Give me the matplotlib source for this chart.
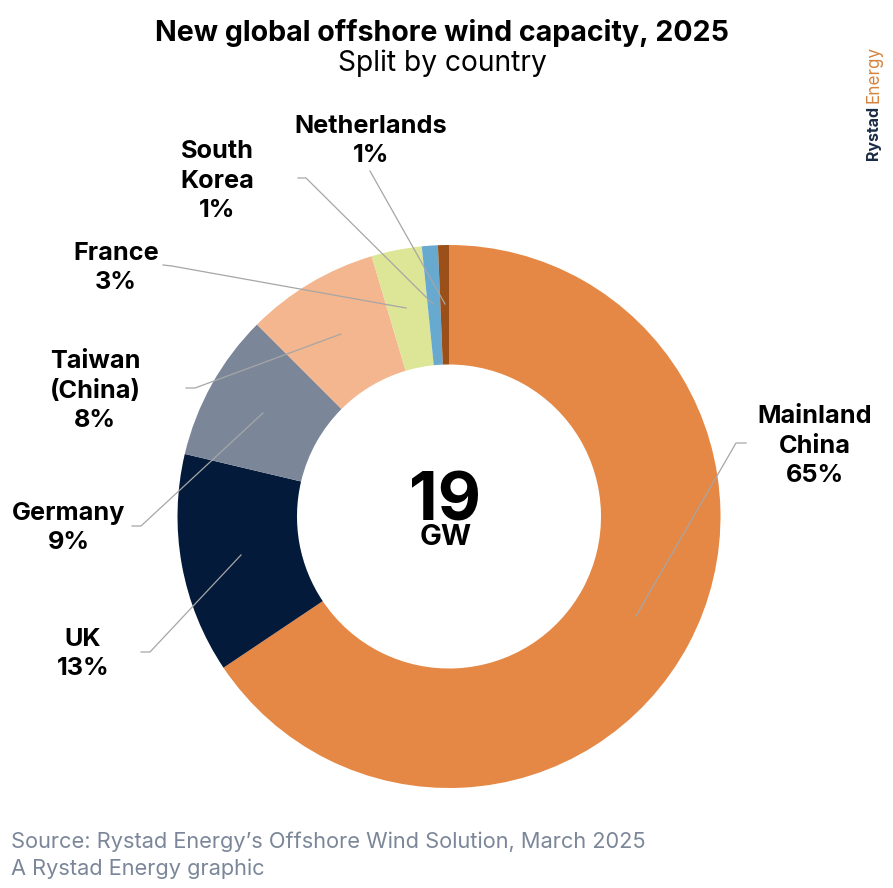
import matplotlib
matplotlib.use("Agg")
import matplotlib.pyplot as plt

plt.rcParams['font.family'] = ['Inter', 'DejaVu Sans']

W, H = 893, 888
countries = ['Mainland\nChina', 'UK', 'Germany', 'Taiwan\n(China)', 'France', 'South\nKorea', 'Netherlands']
shares = [65.6, 13.1, 8.8, 7.9, 3.0, 0.95, 0.65]
pct_labels = ['65%', '13%', '9%', '8%', '3%', '1%', '1%']
colors = ['#E58845', '#041A3A', '#7B8799', '#F4B68E', '#DDE596', '#68A9CF', '#9A5018']

# label centre (px), then leader line: elbow start -> elbow -> end in the slice
label_pos = [(815, 446), (83, 654), (69, 528), (95, 391), (116, 268), (217, 181), (371, 141)]
leaders = [
    [(746, 443), (736, 443), (636, 616)],
    [(141, 652), (150, 652), (241, 555)],
    [(132, 526), (141, 526), (263, 413)],
    [(186, 388), (195, 388), (341, 334)],
    [(163, 265), (172, 266), (406, 308)],
    [(298, 178), (306, 178), (433, 304)],
    [(370, 171), (370, 171), (445, 304)],
]

fig = plt.figure(figsize=(W / 100, H / 100), dpi=100)

cx, cy, r_out, r_in = 449, 516.5, 271.5, 152
ax_pie = fig.add_axes([(cx - r_out) / W, 1 - (cy + r_out) / H, 2 * r_out / W, 2 * r_out / H])
ax_pie.pie(shares, colors=colors, startangle=90, counterclock=False, radius=1,
           wedgeprops=dict(width=1 - r_in / r_out, linewidth=0))
ax_pie.set_xlim(-1, 1); ax_pie.set_ylim(-1, 1)

# overlay in pixel coords for the text and leaders
ax = fig.add_axes([0, 0, 1, 1])
ax.set_xlim(0, W); ax.set_ylim(H, 0); ax.axis('off'); ax.patch.set_alpha(0)

for pts in leaders:
    ax.plot([p[0] for p in pts], [p[1] for p in pts], color='#A6A6A6', lw=0.9)

for name, pct, (x, y) in zip(countries, pct_labels, label_pos):
    ax.text(x, y, f"{name}\n{pct}", ha='center', va='center', fontsize=18.2, fontweight='bold',
            color='black', linespacing=1.38)

ax.text(442, 33, 'New global offshore wind capacity, 2025', ha='center', va='center',
        fontsize=20.6, fontweight='bold', color='black')
ax.text(442, 63, 'Split by country', ha='center', va='center', fontsize=20.3, color='black')

ax.text(445, 520, '19', ha='center', va='baseline', fontsize=48, fontweight='bold', color='black')
ax.text(446, 545, 'GW', ha='center', va='baseline', fontsize=21, fontweight='bold', color='black')

ax.text(11, 842, 'Source: Rystad Energy\u2019s Offshore Wind Solution, March 2025', ha='left', va='center',
        fontsize=15.7, color='#7B8799')
ax.text(11, 869, 'A Rystad Energy graphic', ha='left', va='center', fontsize=15.7, color='#7B8799')

ax.text(874, 160, 'Rystad', rotation=90, ha='center', va='bottom', fontsize=11.5, fontweight='bold', color='#1A2B45')
ax.text(874, 103, 'Energy', rotation=90, ha='center', va='bottom', fontsize=12.3, color='#D5843F')

fig.savefig('out.png', dpi=100)
